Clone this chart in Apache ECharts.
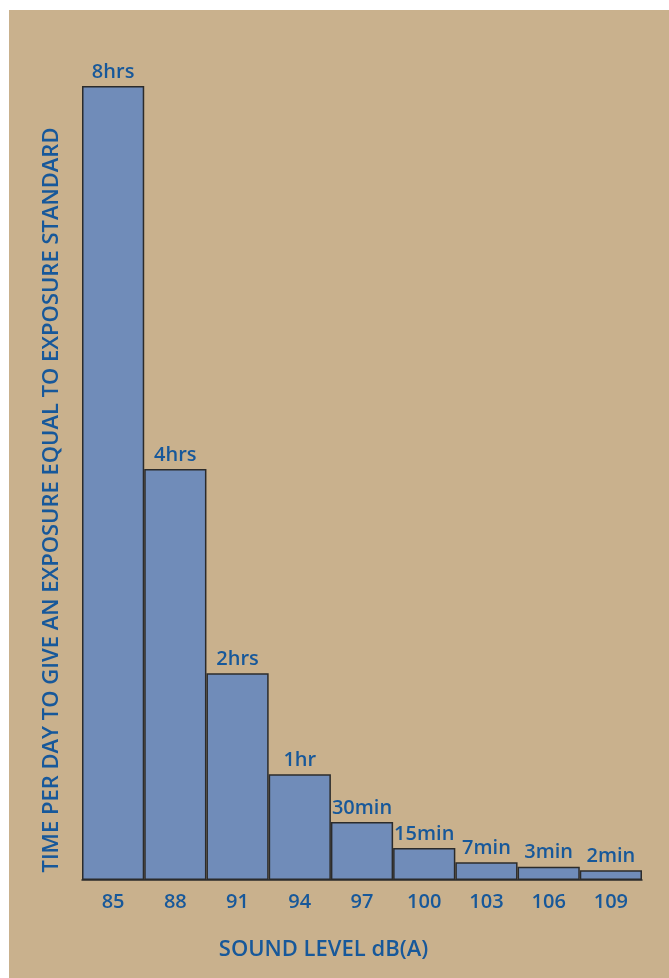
<!DOCTYPE html>
<html>
<head>
<meta charset="utf-8">
<script src="https://cdn.jsdelivr.net/npm/echarts@6/dist/echarts.min.js"></script>
<style>
html,body{margin:0;padding:0;background:#ffffff;}
#chart{position:absolute;left:9px;top:10px;width:660px;height:968px;background:#c9b18d;}
</style>
</head>
<body>
<div id="chart"></div>
<script>
const categories = ['85','88','91','94','97','100','103','106','109'];
const values = [480, 248.5, 125, 64, 35, 19.3, 10.7, 8, 5.9];
const barLabels = ['8hrs','4hrs','2hrs','1hr','30min','15min','7min','3min','2min'];
const xTitle = 'SOUND LEVEL dB(A)';
const yTitle = 'TIME PER DAY TO GIVE AN EXPOSURE EQUAL TO EXPOSURE STANDARD';

const textColor = '#17589a';
const font = "'Open Sans', 'Noto Sans', sans-serif";
const chart = echarts.init(document.getElementById('chart'));
chart.setOption({
  backgroundColor: '#c9b18d',
  animation: false,
  grid: {left: 73, right: 27, top: 76, bottom: 98},
  xAxis: {
    type: 'category',
    data: categories,
    axisLine: {show: true, lineStyle: {color: '#2b2b2b', width: 1.5}},
    axisTick: {show: false},
    axisLabel: {color: textColor, fontFamily: font, fontWeight: 600, fontSize: 20, margin: 12}
  },
  yAxis: {
    type: 'value', min: 0, max: 480,
    show: false,
    splitLine: {show: false}
  },
  series: [{
    type: 'bar',
    data: values,
    barCategoryGap: 0,
    itemStyle: {color: '#708cb9', borderColor: '#2b2b2b', borderWidth: 1.5},
    label: {
      show: true, position: 'top', distance: 4,
      formatter: p => barLabels[p.dataIndex],
      color: textColor, fontFamily: font, fontWeight: 600, fontSize: 20
    }
  }],
  graphic: [
    {type: 'text', x: 314.5, y: 940, style: {text: xTitle, fill: textColor, font: "600 22px 'Open Sans', sans-serif", align: 'center', verticalAlign: 'middle'}},
    {type: 'text', x: 43, y: 490, rotation: Math.PI/2,
     style: {text: yTitle, fill: textColor, font: "600 22px 'Open Sans', sans-serif", align: 'center', verticalAlign: 'middle'}}
  ]
});
</script>
</body>
</html>
